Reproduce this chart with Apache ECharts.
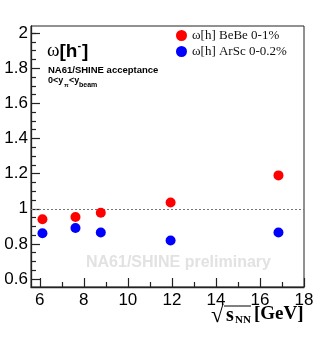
<!DOCTYPE html>
<html><head><meta charset="utf-8">
<script src="https://cdn.jsdelivr.net/npm/echarts@6/dist/echarts.min.js"></script>
<style>html,body{margin:0;padding:0;background:#fff}#c{width:332px;height:343px}</style>
</head><body><div id="c"></div>
<script>
const energies = [6.12, 7.62, 8.77, 11.94, 16.84];
const bebe = [0.94, 0.953, 0.977, 1.036, 1.19];
const arsc = [0.861, 0.891, 0.865, 0.82, 0.865];
const seriesNames = ['ω[h] BeBe 0-1%', 'ω[h] ArSc 0-0.2%'];
const xTicks = [6, 8, 10, 12, 14, 16, 18];
const xMinor = [7, 9, 11, 13, 15, 17];
const yTicks = [0.6, 0.8, 1, 1.2, 1.4, 1.6, 1.8, 2];
const yMinor = [0.65, 0.7, 0.75, 0.85, 0.9, 0.95, 1.05, 1.1, 1.15, 1.25, 1.3, 1.35, 1.45, 1.5, 1.55, 1.65, 1.7, 1.75, 1.85, 1.9, 1.95, 2.0];

const chart = echarts.init(document.getElementById('c'));
const axisCol = '#222';
const xmin = 5.6, xmax = 18, ymin = 0.555, ymax = 2.04;
const sans = 'Liberation Sans';
const serif = 'Liberation Serif';

function pairs(xs, ys) { return xs.map((x, i) => [x, ys[i]]); }

chart.setOption({
  animation: false,
  backgroundColor: '#fff',
  grid: { left: 31, right: 28, top: 26, bottom: 56, show: true, borderColor: axisCol, borderWidth: 1 },
  xAxis: [
    { type: 'value', min: xmin, max: xmax, position: 'bottom',
      axisLine: { show: true, lineStyle: { color: axisCol, width: 1.3 } },
      axisTick: { show: true, inside: true, length: 9, customValues: xTicks, lineStyle: { color: axisCol, width: 1.2 } },
      axisLabel: { customValues: xTicks, fontSize: 17, color: '#000', fontFamily: sans, margin: 5 },
      splitLine: { show: false } },
    { type: 'value', min: xmin, max: xmax, position: 'bottom',
      axisLine: { show: false },
      axisTick: { show: true, inside: true, length: 5, customValues: xMinor, lineStyle: { color: axisCol, width: 1.2 } },
      axisLabel: { show: false }, splitLine: { show: false } }
  ],
  yAxis: [
    { type: 'value', min: ymin, max: ymax, position: 'left',
      axisLine: { show: true, lineStyle: { color: axisCol, width: 1.3 } },
      axisTick: { show: true, inside: true, length: 9, customValues: yTicks, lineStyle: { color: axisCol, width: 1.2 } },
      axisLabel: { customValues: yTicks, fontSize: 17, color: '#000', fontFamily: sans, margin: 3 },
      splitLine: { show: false } },
    { type: 'value', min: ymin, max: ymax, position: 'left',
      axisLine: { show: false },
      axisTick: { show: true, inside: true, length: 5, customValues: yMinor, lineStyle: { color: axisCol, width: 1.2 } },
      axisLabel: { show: false }, splitLine: { show: false } }
  ],
  legend: {
    data: seriesNames, orient: 'vertical', left: 171, top: 24, itemGap: 3,
    itemWidth: 11, itemHeight: 11, icon: 'circle',
    textStyle: { fontFamily: serif, fontSize: 13, color: '#111' }
  },
  series: [
    { name: seriesNames[0], type: 'scatter', data: pairs(energies, bebe), symbolSize: 10,
      itemStyle: { color: '#ff0000', opacity: 1 }, z: 5,
      markLine: { silent: true, symbol: 'none', label: { show: false },
        lineStyle: { color: '#777', type: [2, 2], width: 1 }, data: [{ yAxis: 1 }] } },
    { name: seriesNames[1], type: 'scatter', data: pairs(energies, arsc), symbolSize: 10,
      itemStyle: { color: '#0000ff', opacity: 1 }, z: 5 }
  ],
  graphic: [
    { type: 'text', left: 86, top: 255, z: 1, style: { text: 'NA61/SHINE preliminary', fontFamily: sans, fontWeight: 'bold', fontSize: 16, fill: '#e2e2e2' } },
    { type: 'text', left: 47, top: 40, style: {
        text: '{w|ω}{b|[h}{s|-}{b|]}',
        rich: {
          w: { fontFamily: serif, fontSize: 19, fill: '#000', verticalAlign: 'bottom' },
          b: { fontFamily: sans, fontWeight: 'bold', fontSize: 19, fill: '#000', verticalAlign: 'bottom' },
          s: { fontFamily: sans, fontWeight: 'bold', fontSize: 11, fill: '#000', verticalAlign: 'top', padding: [0, 1, 10, 0] }
        } } },
    { type: 'text', left: 48, top: 65, style: { text: 'NA61/SHINE acceptance', fontFamily: sans, fontWeight: 'bold', fontSize: 9.5, fill: '#000' } },
    { type: 'text', left: 48, top: 76, style: { text: '0<y', fontFamily: sans, fontWeight: 'bold', fontSize: 9, fill: '#000' } },
    { type: 'text', left: 64, top: 82, style: { text: 'π', fontFamily: sans, fontWeight: 'bold', fontSize: 6, fill: '#000' } },
    { type: 'text', left: 69, top: 76, style: { text: '<y', fontFamily: sans, fontWeight: 'bold', fontSize: 9, fill: '#000' } },
    { type: 'text', left: 79, top: 82, style: { text: 'beam', fontFamily: sans, fontWeight: 'bold', fontSize: 7, fill: '#000' } },
    { type: 'text', left: 211, top: 304, style: { text: '√', fontFamily: serif, fontSize: 23, fill: '#000' } },
    { type: 'text', left: 226, top: 306, style: { text: 's', fontFamily: serif, fontWeight: 'bold', fontSize: 20, fill: '#000' } },
    { type: 'text', left: 235, top: 315, style: { text: 'NN', fontFamily: serif, fontWeight: 'bold', fontSize: 11, fill: '#000' } },
    { type: 'text', left: 254, top: 305, style: { text: '[GeV]', fontFamily: serif, fontWeight: 'bold', fontSize: 19, fill: '#000' } },
    { type: 'line', shape: { x1: 224, y1: 306, x2: 251, y2: 306 }, style: { stroke: '#000', lineWidth: 1 } }
  ]
});
</script></body></html>
